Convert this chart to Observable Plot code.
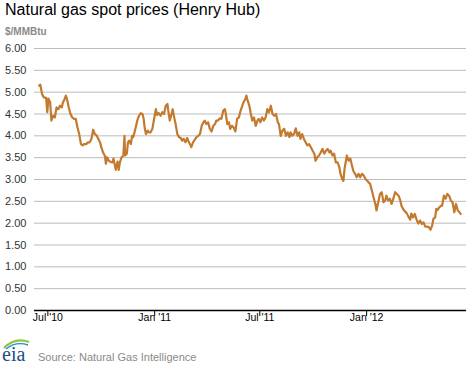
<!DOCTYPE html>
<html>
<head>
<meta charset="utf-8">
<script src="https://cdn.jsdelivr.net/npm/d3@7"></script>
<script src="https://cdn.jsdelivr.net/npm/@observablehq/plot@0.6"></script>
<style>
  html, body { margin: 0; padding: 0; background: #fff; }
  #wrap { position: relative; width: 466px; height: 368px; overflow: hidden; font-family: "Liberation Sans", Arial, sans-serif; }
  #title { position: absolute; left: 5px; top: 1px; font-size: 16px; color: #000; white-space: nowrap; }
  #unit { position: absolute; left: 5px; top: 26px; font-size: 10px; font-weight: bold; color: #8a8a8a; }
  #chart { position: absolute; left: 0; top: 40px; }
  #logo { position: absolute; left: 1px; top: 336px; width: 34px; height: 30px; }
  #source { position: absolute; left: 38px; top: 351px; font-size: 11px; color: #8a8a8a; white-space: nowrap; }
</style>
</head>
<body>
<div id="wrap">
  <div id="title">Natural gas spot prices (Henry Hub)</div>
  <div id="unit">$/MMBtu</div>
  <div id="chart"></div>
  <div id="logo">
    <svg width="34" height="30" viewBox="0 0 34 30">
      <path d="M3 12 Q14 1 28 6" fill="none" stroke="#8cc63f" stroke-width="2.2"/>
      <path d="M5 13 Q15 5 27 9" fill="none" stroke="#2a8fc7" stroke-width="1.4"/>
      <text x="1" y="25" font-family="Liberation Serif, serif" font-size="20" fill="#1c4f82">eia</text>
    </svg>
  </div>
  <div id="source">Source: Natural Gas Intelligence</div>
</div>
<script>
// Henry Hub daily spot price ($/MMBtu)
const dates = [
"2010-06-16","2010-06-18","2010-06-21","2010-06-24","2010-06-28","2010-06-30","2010-07-02","2010-07-05","2010-07-07","2010-07-10",
"2010-07-13","2010-07-16","2010-07-19","2010-07-22","2010-07-25","2010-07-27","2010-07-29","2010-08-01","2010-08-03","2010-08-06",
"2010-08-09","2010-08-12","2010-08-15","2010-08-18","2010-08-21","2010-08-24","2010-08-27","2010-08-30","2010-09-01","2010-09-05",
"2010-09-08","2010-09-11","2010-09-14","2010-09-17","2010-09-20","2010-09-23","2010-09-26","2010-09-29","2010-10-01","2010-10-04",
"2010-10-07","2010-10-09","2010-10-11","2010-10-14","2010-10-17","2010-10-20","2010-10-22","2010-10-26","2010-10-29","2010-10-31",
"2010-11-02","2010-11-05","2010-11-08","2010-11-10","2010-11-11","2010-11-14","2010-11-16","2010-11-18","2010-11-21","2010-11-23",
"2010-11-25","2010-11-28","2010-11-30","2010-12-02","2010-12-05","2010-12-08","2010-12-11","2010-12-13","2010-12-15","2010-12-17",
"2010-12-20","2010-12-22","2010-12-25","2010-12-28","2010-12-31","2011-01-03","2011-01-05","2011-01-08","2011-01-11","2011-01-14",
"2011-01-17","2011-01-20","2011-01-23","2011-01-24","2011-01-27","2011-01-30","2011-02-01","2011-02-03","2011-02-06","2011-02-09",
"2011-02-12","2011-02-15","2011-02-17","2011-02-20","2011-02-23","2011-02-26","2011-03-01","2011-03-04","2011-03-05","2011-03-08",
"2011-03-11","2011-03-14","2011-03-17","2011-03-20","2011-03-23","2011-03-26","2011-03-28","2011-03-31","2011-04-03","2011-04-06",
"2011-04-09","2011-04-12","2011-04-15","2011-04-17","2011-04-20","2011-04-23","2011-04-26","2011-04-29","2011-05-02","2011-05-03",
"2011-05-06","2011-05-09","2011-05-11","2011-05-14","2011-05-17","2011-05-20","2011-05-23","2011-05-26","2011-05-29","2011-06-01",
"2011-06-03","2011-06-06","2011-06-08","2011-06-10","2011-06-13","2011-06-15","2011-06-18","2011-06-21","2011-06-24","2011-06-27",
"2011-06-29","2011-07-02","2011-07-05","2011-07-08","2011-07-11","2011-07-14","2011-07-17","2011-07-20","2011-07-23","2011-07-26",
"2011-07-29","2011-08-01","2011-08-03","2011-08-06","2011-08-09","2011-08-12","2011-08-15","2011-08-18","2011-08-21","2011-08-23",
"2011-08-26","2011-08-29","2011-09-01","2011-09-04","2011-09-07","2011-09-09","2011-09-12","2011-09-15","2011-09-18","2011-09-21",
"2011-09-24","2011-09-27","2011-09-30","2011-10-03","2011-10-05","2011-10-08","2011-10-11","2011-10-14","2011-10-17","2011-10-20",
"2011-10-23","2011-10-26","2011-10-29","2011-10-31","2011-11-03","2011-11-06","2011-11-09","2011-11-12","2011-11-15","2011-11-17",
"2011-11-20","2011-11-22","2011-11-24","2011-11-28","2011-12-01","2011-12-04","2011-12-06","2011-12-09","2011-12-12","2011-12-15",
"2011-12-18","2011-12-21","2011-12-24","2011-12-27","2011-12-30","2012-01-02","2012-01-04","2012-01-07","2012-01-10","2012-01-13",
"2012-01-16","2012-01-18","2012-01-21","2012-01-24","2012-01-27","2012-01-30","2012-02-02","2012-02-04","2012-02-07","2012-02-10",
"2012-02-13","2012-02-16","2012-02-19","2012-02-22","2012-02-25","2012-02-28","2012-03-01","2012-03-04","2012-03-07","2012-03-10",
"2012-03-13","2012-03-16","2012-03-18","2012-03-21","2012-03-24","2012-03-27","2012-03-30","2012-04-02","2012-04-05","2012-04-08",
"2012-04-11","2012-04-14","2012-04-17","2012-04-20","2012-04-23","2012-04-25","2012-04-28","2012-04-30","2012-05-02","2012-05-05",
"2012-05-08","2012-05-10","2012-05-13","2012-05-16","2012-05-19","2012-05-22","2012-05-25","2012-05-28","2012-05-31","2012-06-03",
"2012-06-06","2012-06-09","2012-06-11"
];
const prices = [
5.15,5.17,4.96,4.88,4.87,4.54,4.85,4.77,4.35,4.46,
4.42,4.65,4.61,4.69,4.65,4.77,4.81,4.92,4.84,4.65,
4.50,4.42,4.39,4.39,4.19,4.04,3.81,3.78,3.81,3.81,
3.85,3.85,3.93,4.14,4.04,4.01,3.93,3.85,3.74,3.62,
3.55,3.36,3.51,3.43,3.40,3.39,3.48,3.22,3.41,3.22,
3.39,3.51,3.55,4.00,3.55,3.59,3.85,3.89,3.81,4.00,
3.97,4.12,4.23,4.35,4.46,4.52,4.50,4.39,4.16,4.04,
4.12,4.08,4.08,4.16,4.39,4.61,4.48,4.52,4.46,4.54,
4.50,4.69,4.73,4.61,4.35,4.50,4.61,4.46,4.27,4.04,
3.97,3.95,3.89,3.93,3.85,3.95,3.85,3.78,3.74,3.85,
3.91,3.97,4.00,4.04,4.23,4.31,4.35,4.27,4.31,4.16,
4.10,4.23,4.27,4.35,4.35,4.40,4.39,4.58,4.61,4.54,
4.27,4.31,4.16,4.23,4.19,4.10,4.39,4.42,4.58,4.69,
4.77,4.84,4.92,4.81,4.69,4.54,4.35,4.42,4.23,4.35,
4.39,4.31,4.42,4.35,4.42,4.61,4.54,4.69,4.50,4.46,
4.50,4.31,4.27,4.00,4.12,4.16,4.00,4.08,3.97,4.08,
4.00,4.04,4.17,4.00,4.08,3.93,4.04,3.93,3.85,3.78,
3.81,3.74,3.66,3.59,3.43,3.51,3.55,3.62,3.70,3.59,
3.66,3.70,3.62,3.66,3.55,3.59,3.39,3.39,3.28,3.13,
3.01,2.97,3.25,3.55,3.43,3.48,3.36,3.20,3.13,3.05,
3.13,3.05,3.13,3.09,3.01,2.97,2.94,2.90,2.75,2.59,
2.44,2.29,2.48,2.67,2.71,2.48,2.52,2.63,2.52,2.56,
2.44,2.56,2.71,2.67,2.63,2.52,2.40,2.32,2.27,2.23,
2.15,2.08,2.22,2.13,2.21,2.08,1.99,2.06,1.98,2.02,
1.92,1.92,1.91,1.85,1.95,2.10,2.13,2.33,2.30,2.36,
2.40,2.40,2.63,2.56,2.67,2.63,2.52,2.48,2.25,2.44,
2.29,2.25,2.21
];
const yTicks = [0, 0.5, 1, 1.5, 2, 2.5, 3, 3.5, 4, 4.5, 5, 5.5, 6];
const xTickDates = ["2010-07-01", "2011-01-01", "2011-07-01", "2012-01-01"];
const xTickLabels = ["Jul '10", "Jan '11", "Jul '11", "Jan '12"];
const xDomain = ["2010-06-08", "2012-06-21"];

const data = dates.map((d, i) => ({date: new Date(d), price: prices[i]}));
const xt = xTickDates.map(d => new Date(d));

const chart = Plot.plot({
  width: 466,
  height: 300,
  marginTop: 8,
  marginBottom: 30,
  marginLeft: 34,
  marginRight: 0,
  style: {fontFamily: "Liberation Sans, Arial, sans-serif", fontSize: "11px", background: "transparent", color: "#222", overflow: "visible"},
  x: {type: "utc", domain: xDomain.map(d => new Date(d))},
  y: {domain: [0, 6]},
  marks: [
    Plot.gridY(yTicks.filter(d => d > 0), {stroke: "#bdbdbd", strokeOpacity: 1, strokeWidth: 1}),
    Plot.axisY({ticks: yTicks, tickSize: 0, tickPadding: 8, label: null, tickFormat: d => d.toFixed(2), fill: "#333", fontSize: 11}),
    Plot.axisX({ticks: xt, tickSize: 6, tickPadding: -3, label: null, tickFormat: (d, i) => xTickLabels[i], stroke: "#000", fill: "#000", fontSize: 10.5}),
    Plot.lineY(data, {x: "date", y: "price", stroke: "#c47a2e", strokeWidth: 2.2, curve: "linear"}),
    Plot.ruleY([0], {stroke: "#000", strokeWidth: 1.5})
  ]
});
document.getElementById("chart").appendChild(chart);
</script>
</body>
</html>
